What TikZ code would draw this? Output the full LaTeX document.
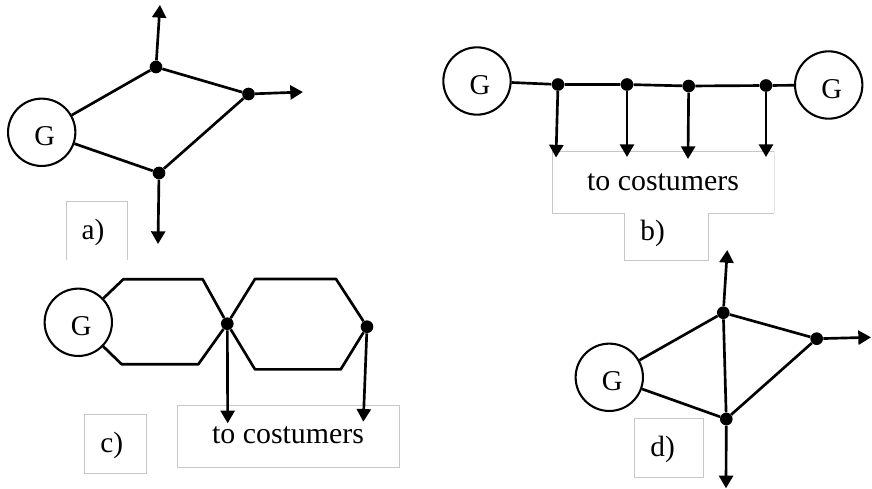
\documentclass[tikz,border=0pt]{standalone}
\usepackage{fontspec}
\setmainfont{Liberation Serif}
\usetikzlibrary{arrows.meta}
\newcommand{\genG}{\raisebox{-10.1pt}[0pt][0pt]{\hspace{4.5pt}G}}
\tikzset{
  gen/.style={circle,draw=black,line width=1.55pt,minimum size=50.5pt,inner sep=0pt,font=\fontsize{21.5}{24}\selectfont},
  dot/.style={circle,fill=black,draw=none,minimum size=9.5pt,inner sep=0pt},
  line/.style={line width=2pt,line join=round,black},
  arr/.style={line width=2pt,black,-{Triangle[length=9.5pt,width=10.5pt]},shorten >=0pt},
  frame/.style={draw=black!22,line width=0.7pt},
  lab/.style={font=\fontsize{22}{24}\selectfont,inner sep=0pt},
  cust/.style={font=\fontsize{22.4}{26}\selectfont,inner sep=0pt}
}
\begin{document}
\begin{tikzpicture}[x=0.75pt,y=-0.75pt]
\useasboundingbox (0,0) rectangle (872,489);
% a
\draw[frame] (66,260) -- (66,201) -- (127.5,201) -- (127.5,260);
\node[lab] (la) at (93,232) {a)};
\node[gen] (ga) at (41.7,132.3) {\genG};
\node[dot] (a1) at (156,67) {};
\node[dot] (a2) at (248.5,94) {};
\node[dot] (a3) at (159,173) {};
\coordinate (a1e) at (160,5);
\coordinate (a2e) at (303,92);
\coordinate (a3e) at (158,244);
\draw[line] (ga) -- (a1) -- (a2) -- (a3) -- (ga);
\draw[arr] (a1) -- (a1e);
\draw[arr] (a2) -- (a2e);
\draw[arr] (a3) -- (a3e);
% b
\draw[frame] (552.5,151) -- (552.5,213) -- (624.7,213) -- (624.7,260) -- (708,260) -- (708,213) -- (774,213);
\draw[frame] (552.5,151) -- (774,151);
\draw[draw=black!10,line width=0.7pt] (774,151) -- (774,213);
\node[cust] (tb) at (663,182) {to costumers};
\node[lab] (lb) at (652.7,233) {b)};
\node[gen] (gb1) at (477,81) {\genG};
\node[gen] (gb2) at (828.7,85) {\genG};
\node[dot] (b1) at (558,84.5) {};
\node[dot] (b2) at (627,84.5) {};
\node[dot] (b3) at (688.7,86) {};
\node[dot] (b4) at (766,85.5) {};
\coordinate (b1e) at (556,157.5);
\coordinate (b2e) at (627,157);
\coordinate (b3e) at (688,159);
\coordinate (b4e) at (766,157);
\draw[line] (gb1) -- (b1) -- (b2) -- (b3) -- (b4) -- (gb2);
\draw[arr] (b1) -- (b1e);
\draw[arr] (b2) -- (b2e);
\draw[arr] (b3) -- (b3e);
\draw[arr] (b4) -- (b4e);
% c
\node[frame,draw,minimum width=46.5pt,minimum height=44.5pt,inner sep=0pt] (fc) at (115.3,443.7) {};
\node[lab] (lc) at (111.7,445) {c)};
\node[frame,draw,minimum width=166.2pt,minimum height=46.5pt,inner sep=0pt] (fcc) at (288.5,436.3) {};
\node[cust] (tc) at (288,435) {to costumers};
\node[gen] (gc) at (78.3,322.3) {\genG};
\node[dot] (c1) at (227.3,323.7) {};
\node[dot] (c2) at (367,326.7) {};
\coordinate (p1) at (123.3,279.3);
\coordinate (p2) at (202.7,279.3);
\coordinate (p3) at (255,369.4);
\coordinate (p4) at (340.7,369.4);
\coordinate (q1) at (121.7,364.3);
\coordinate (q2) at (198.3,364.3);
\coordinate (q3) at (255,279);
\coordinate (q4) at (336,279);
\coordinate (c1e) at (227.7,423.3);
\coordinate (c2e) at (363.3,421.7);
\draw[line] (gc) -- (p1) -- (p2) -- (c1) -- (p3) -- (p4) -- (c2);
\draw[line] (gc) -- (q1) -- (q2) -- (c1) -- (q3) -- (q4) -- (c2);
\draw[arr] (c1) -- (c1e);
\draw[arr] (c2) -- (c2e);
% d
\node[frame,draw,minimum width=51.7pt,minimum height=44.2pt,inner sep=0pt] (fd) at (668.8,447.8) {};
\node[lab] (ld) at (662.7,449) {d)};
\node[gen] (gd) at (609.3,377.3) {\genG};
\node[dot] (d1) at (723.3,312.7) {};
\node[dot] (d2) at (816.7,338.7) {};
\node[dot] (d3) at (726.3,419) {};
\coordinate (d1e) at (727.3,250);
\coordinate (d2e) at (871,337.3);
\coordinate (d3e) at (726,488.3);
\draw[line] (gd) -- (d1) -- (d2) -- (d3) -- (gd);
\draw[line] (d1) -- (d3);
\draw[arr] (d1) -- (d1e);
\draw[arr] (d2) -- (d2e);
\draw[arr] (d3) -- (d3e);
\end{tikzpicture}
\end{document}
